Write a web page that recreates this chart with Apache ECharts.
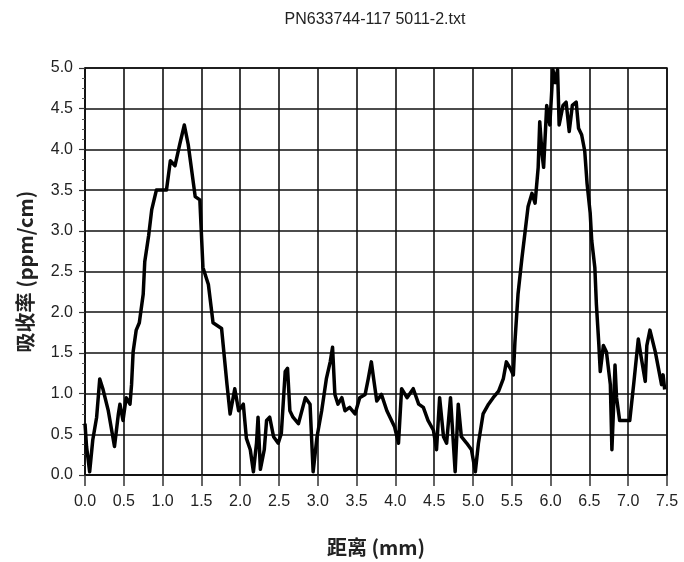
<!DOCTYPE html>
<html>
<head>
<meta charset="utf-8">
<script src="https://cdn.jsdelivr.net/npm/echarts@6/dist/echarts.min.js"></script>
<style>
  html, body { margin: 0; padding: 0; background: #fff; }
  #chart { width: 684px; height: 562px; }
</style>
</head>
<body>
<div id="chart"></div>
<script>
// distance along the sample (mm)
const distance = [
  0.00, 0.02, 0.06, 0.10, 0.15, 0.19, 0.23, 0.30, 0.38, 0.43, 0.45, 0.49, 0.53, 0.58, 0.60, 0.62,
  0.66, 0.70, 0.75, 0.77, 0.82, 0.86, 0.92, 1.05, 1.10, 1.16, 1.22, 1.28, 1.33, 1.42, 1.48, 1.52,
  1.59, 1.65, 1.76, 1.83, 1.87, 1.93, 1.98, 2.04, 2.08, 2.13, 2.17, 2.21, 2.23, 2.26, 2.31, 2.34,
  2.38, 2.43, 2.49, 2.53, 2.58, 2.61, 2.64, 2.68, 2.75, 2.84, 2.90, 2.94, 2.99, 3.05, 3.11, 3.16,
  3.19, 3.22, 3.26, 3.31, 3.35, 3.41, 3.48, 3.54, 3.61, 3.65, 3.69, 3.72, 3.76, 3.82, 3.89, 3.95,
  3.99, 4.04, 4.08, 4.15, 4.23, 4.30, 4.36, 4.42, 4.49, 4.53, 4.57, 4.62, 4.66, 4.71, 4.77, 4.81,
  4.85, 4.92, 4.98, 5.03, 5.07, 5.13, 5.20, 5.26, 5.33, 5.39, 5.43, 5.48, 5.52, 5.54, 5.58, 5.63,
  5.67, 5.71, 5.76, 5.80, 5.84, 5.86, 5.89, 5.91, 5.95, 5.99, 6.03, 6.06, 6.09, 6.11, 6.16, 6.20,
  6.24, 6.28, 6.33, 6.36, 6.40, 6.44, 6.47, 6.51, 6.53, 6.57, 6.59, 6.62, 6.64, 6.68, 6.72, 6.77,
  6.79, 6.81, 6.83, 6.85, 6.89, 7.02, 7.07, 7.13, 7.17, 7.22, 7.24, 7.28, 7.35, 7.39, 7.43, 7.45,
  7.47
];

// absorption coefficient (ppm/cm)
const absorption = [
  0.63, 0.35, 0.04, 0.43, 0.71, 1.18, 1.06, 0.79, 0.35, 0.75, 0.87, 0.67, 0.95, 0.87, 1.11, 1.51,
  1.78, 1.87, 2.22, 2.62, 2.94, 3.26, 3.50, 3.50, 3.86, 3.80, 4.06, 4.30, 4.06, 3.42, 3.38, 2.55,
  2.34, 1.87, 1.80, 1.11, 0.75, 1.06, 0.79, 0.87, 0.45, 0.31, 0.04, 0.39, 0.71, 0.07, 0.31, 0.67,
  0.71, 0.47, 0.39, 0.51, 1.27, 1.31, 0.79, 0.71, 0.63, 0.95, 0.87, 0.04, 0.47, 0.79, 1.18, 1.39,
  1.57, 0.99, 0.87, 0.95, 0.79, 0.83, 0.75, 0.95, 0.99, 1.18, 1.39, 1.18, 0.91, 0.99, 0.79, 0.67,
  0.59, 0.39, 1.06, 0.95, 1.06, 0.87, 0.83, 0.67, 0.55, 0.31, 0.95, 0.47, 0.39, 0.95, 0.04, 0.87,
  0.47, 0.39, 0.31, 0.04, 0.39, 0.75, 0.87, 0.95, 1.03, 1.18, 1.39, 1.31, 1.23, 1.63, 2.22, 2.66,
  2.98, 3.30, 3.46, 3.34, 3.78, 4.34, 3.94, 3.78, 4.54, 4.30, 4.98, 4.82, 4.98, 4.30, 4.54, 4.58,
  4.22, 4.54, 4.58, 4.26, 4.18, 3.98, 3.58, 3.22, 2.88, 2.55, 2.10, 1.63, 1.27, 1.59, 1.51, 1.11,
  0.31, 0.79, 1.35, 0.95, 0.67, 0.67, 1.11, 1.67, 1.43, 1.15, 1.59, 1.78, 1.51, 1.31, 1.11, 1.23,
  1.05
];

const titleText = 'PN633744-117 5011-2.txt';
const xName = '距离 (mm)';
const yName = '吸收率 (ppm/cm)';

const points = distance.map((d, i) => [d, absorption[i]]);

const chart = echarts.init(document.getElementById('chart'));

const labelFont = {
  fontFamily: 'Liberation Sans, Arial, sans-serif',
  fontSize: 16,
  color: '#222',
};

chart.setOption({
  animation: false,
  backgroundColor: '#fff',
  title: {
    text: titleText,
    left: 370,
    textAlign: 'center',
    top: 7,
    textStyle: {
      fontFamily: 'Liberation Sans, sans-serif',
      fontSize: 16,
      fontWeight: 'normal',
      color: '#222',
    },
  },
  grid: {
    left: 85,
    right: 17,
    top: 68,
    bottom: 76,
    show: true,
    borderColor: '#111',
    borderWidth: 1.5,
  },
  xAxis: {
    type: 'value',
    min: 0,
    max: 7.5,
    interval: 0.5,
    name: xName,
    nameLocation: 'middle',
    nameGap: 62,
    nameTextStyle: {
      fontFamily: 'Noto Sans CJK SC, sans-serif',
      fontSize: 20,
      fontWeight: 'bold',
      color: '#222',
    },
    axisLine: { show: true, lineStyle: { color: '#111', width: 1.5 } },
    axisTick: { show: true, length: 11, lineStyle: { color: '#333', width: 1.5 } },
    axisLabel: Object.assign({ margin: 19, formatter: (v) => v.toFixed(1) }, labelFont),
    splitLine: { show: true, lineStyle: { color: '#111', width: 1.6 } },
  },
  yAxis: {
    type: 'value',
    min: 0,
    max: 5,
    interval: 0.5,
    name: yName,
    nameLocation: 'middle',
    nameGap: 50,
    nameTextStyle: {
      fontFamily: 'Noto Sans CJK SC, sans-serif',
      fontSize: 20,
      fontWeight: 'bold',
      color: '#222',
    },
    axisLine: { show: true, lineStyle: { color: '#111', width: 1.5 } },
    axisTick: { show: true, length: 6, lineStyle: { color: '#333', width: 1.2 } },
    minorTick: { show: true, splitNumber: 4, length: 3, lineStyle: { color: '#555', width: 1 } },
    axisLabel: Object.assign({ margin: 12, formatter: (v) => v.toFixed(1) }, labelFont),
    splitLine: { show: true, lineStyle: { color: '#111', width: 1.6 } },
  },
  series: [
    {
      type: 'line',
      data: points,
      showSymbol: false,
      lineStyle: { color: '#000', width: 3.5, join: 'round' },
      clip: true,
    },
  ],
});
</script>
</body>
</html>
